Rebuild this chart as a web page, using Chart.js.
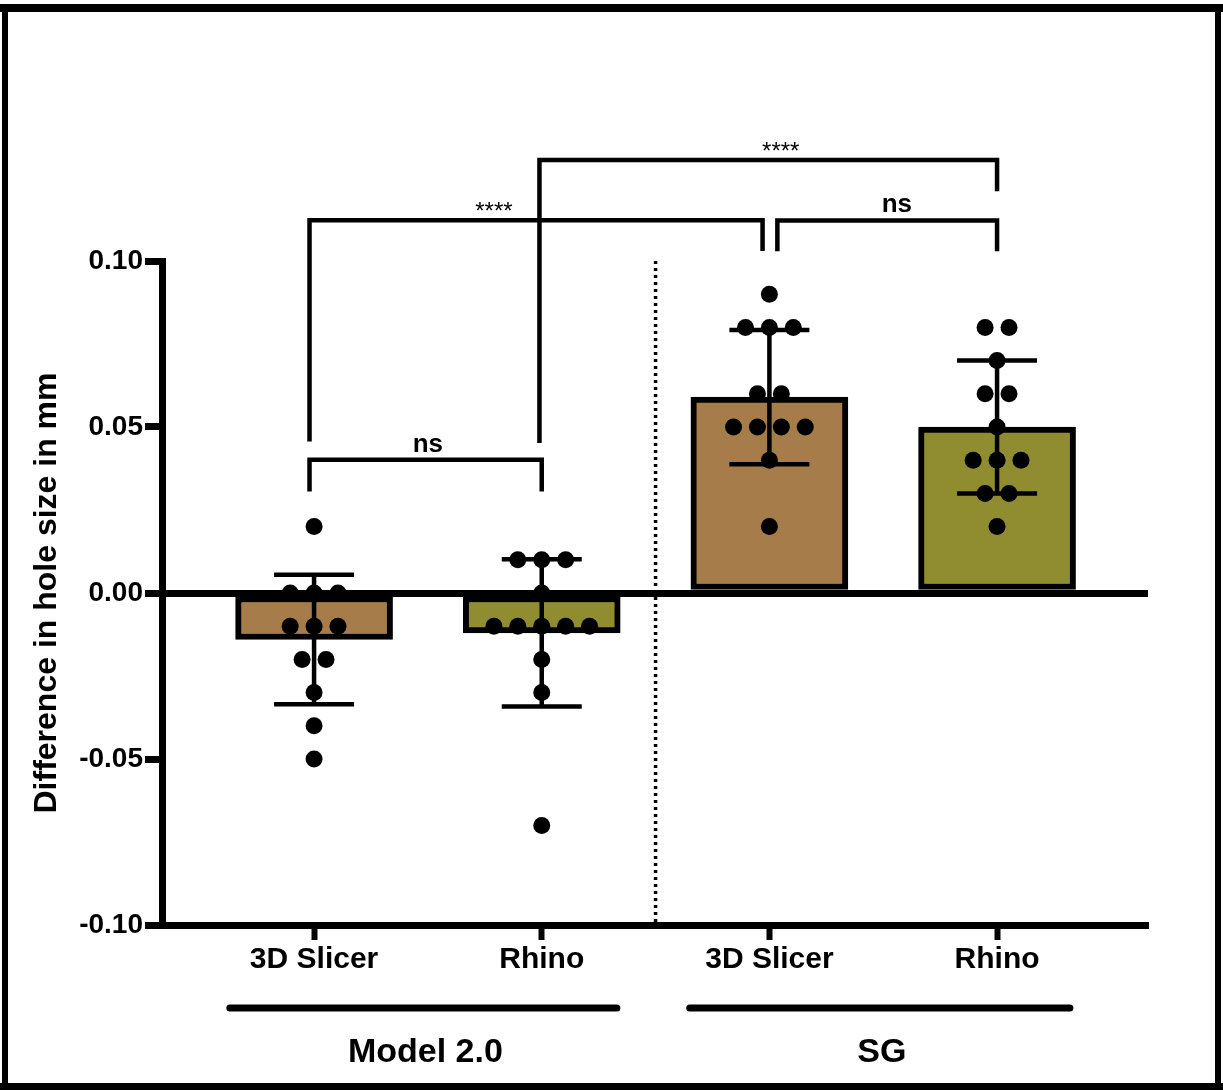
<!DOCTYPE html>
<html>
<head>
<meta charset="utf-8">
<script src="https://cdn.jsdelivr.net/npm/chart.js@4.4.1/dist/chart.umd.min.js"></script>
<style>
  html, body { margin: 0; padding: 0; background: #fff; }
  canvas { display: block; }
</style>
</head>
<body>
<canvas id="chart" width="1223" height="1090"></canvas>
<script>
// Data
const groups = ['3D Slicer', 'Rhino', '3D Slicer', 'Rhino'];
const studies = ['Model 2.0', 'SG'];
const meanValues = [-0.014, -0.012, 0.059, 0.050];
const sdValues = [0.0195, 0.0222, 0.0202, 0.020];

const slicerModel2 = [0.02, 0.00, 0.00, 0.00, -0.01, -0.01, -0.01, -0.02, -0.02, -0.03, -0.04, -0.05];
const rhinoModel2 = [0.01, 0.01, 0.01, 0.00, -0.01, -0.01, -0.01, -0.01, -0.01, -0.02, -0.03, -0.07];
const slicerSG = [0.09, 0.08, 0.08, 0.08, 0.06, 0.06, 0.05, 0.05, 0.05, 0.05, 0.04, 0.02];
const rhinoSG = [0.08, 0.08, 0.07, 0.06, 0.06, 0.05, 0.04, 0.04, 0.04, 0.03, 0.03, 0.02];

const barColors = ['#A67C4B', '#8F8D2F', '#A67C4B', '#8F8D2F'];
const FONT = '"Liberation Sans", Arial, sans-serif';

// significance brackets (x in category units, y in data units)
const brackets = [
  { x1: -0.02, x2: 1.0, y: 0.0401, e1: 0.0306, e2: 0.0306, label: 'ns', lx: 0.5, ly: 0.0426, bold: true },
  { x1: -0.02, x2: 1.97, y: 0.1123, e1: 0.0456, e2: 0.1030, label: '****', lx: 0.79, ly: 0.1127, bold: false },
  { x1: 0.99, x2: 3.0, y: 0.1304, e1: 0.0452, e2: 0.1210, label: '****', lx: 2.05, ly: 0.1307, bold: false },
  { x1: 2.035, x2: 3.0, y: 0.1122, e1: 0.1029, e2: 0.1029, label: 'ns', lx: 2.56, ly: 0.1149, bold: true }
];

// spread equal values side by side like a dot plot
const DOT_STEP = 0.105;
function swarm(values, center) {
  const counts = {};
  values.forEach(v => { counts[v] = (counts[v] || 0) + 1; });
  const seen = {};
  return values.map(v => {
    const k = seen[v] || 0;
    seen[v] = k + 1;
    return { x: center + (k - (counts[v] - 1) / 2) * DOT_STEP, y: v };
  });
}

const points = [slicerModel2, rhinoModel2, slicerSG, rhinoSG]
  .map((vals, i) => swarm(vals, i)).flat();

const extras = {
  id: 'extras',
  beforeDatasetsDraw(chart) {
    const { ctx, chartArea, scales: { x } } = chart;
    const px = x.getPixelForValue(1.5);
    ctx.save();
    ctx.strokeStyle = '#000';
    ctx.lineWidth = 3.5;
    ctx.setLineDash([3, 4]);
    ctx.beginPath();
    ctx.moveTo(px, chartArea.top);
    ctx.lineTo(px, chartArea.bottom);
    ctx.stroke();
    ctx.restore();
  },
  afterDatasetDraw(chart, args) {
    if (args.index !== 0) return;
    const { ctx, scales: { x, y } } = chart;
    ctx.save();
    ctx.strokeStyle = '#000';
    ctx.lineWidth = 4.5;
    meanValues.forEach((m, i) => {
      const px = x.getPixelForValue(i);
      const top = y.getPixelForValue(m + sdValues[i]);
      const bot = y.getPixelForValue(m - sdValues[i]);
      ctx.beginPath();
      ctx.moveTo(px, top);
      ctx.lineTo(px, bot);
      ctx.moveTo(px - 40, top);
      ctx.lineTo(px + 40, top);
      ctx.moveTo(px - 40, bot);
      ctx.lineTo(px + 40, bot);
      ctx.stroke();
    });
    ctx.restore();
  },
  afterDraw(chart) {
    const { ctx, chartArea, scales: { x, y } } = chart;
    ctx.save();
    ctx.strokeStyle = '#000';
    ctx.fillStyle = '#000';

    // brackets
    ctx.lineWidth = 4.5;
    ctx.lineJoin = 'miter';
    brackets.forEach(b => {
      ctx.beginPath();
      ctx.moveTo(x.getPixelForValue(b.x1), y.getPixelForValue(b.e1));
      ctx.lineTo(x.getPixelForValue(b.x1), y.getPixelForValue(b.y));
      ctx.lineTo(x.getPixelForValue(b.x2), y.getPixelForValue(b.y));
      ctx.lineTo(x.getPixelForValue(b.x2), y.getPixelForValue(b.e2));
      ctx.stroke();
      ctx.font = b.bold ? 'bold 26px ' + FONT : '24px ' + FONT;
      ctx.textAlign = 'center';
      ctx.textBaseline = 'alphabetic';
      ctx.fillText(b.label, x.getPixelForValue(b.lx), y.getPixelForValue(b.ly));
    });

    // study group lines and labels
    const spans = [[-0.37, 1.33], [1.65, 3.32]];
    ctx.lineWidth = 7;
    ctx.lineCap = 'round';
    spans.forEach((s, i) => {
      const a = x.getPixelForValue(s[0]);
      const b = x.getPixelForValue(s[1]);
      const ly = chartArea.bottom + 83;
      ctx.beginPath();
      ctx.moveTo(a, ly);
      ctx.lineTo(b, ly);
      ctx.stroke();
      ctx.font = 'bold 34px ' + FONT;
      ctx.textAlign = 'center';
      ctx.textBaseline = 'middle';
      ctx.fillText(studies[i], (a + b) / 2 + 2, chartArea.bottom + 128);
    });

    // outer frame
    const W = chart.width, H = chart.height;
    ctx.fillRect(0, 4, W, 8);
    ctx.fillRect(2, 4, 6, H - 4);
    ctx.fillRect(W - 8, 4, 6, H - 4);
    ctx.fillRect(0, H - 7, W, 7);
    ctx.restore();
  }
};

new Chart(document.getElementById('chart'), {
  type: 'bar',
  data: {
    datasets: [
      {
        type: 'bar',
        data: meanValues.map((m, i) => ({ x: i, y: m })),
        backgroundColor: barColors,
        borderColor: '#000',
        borderWidth: 6,
        borderSkipped: false,
        barThickness: 157,
        order: 2
      },
      {
        type: 'scatter',
        data: points,
        pointRadius: 8.5,
        pointBackgroundColor: '#000',
        pointBorderWidth: 0,
        order: 1
      }
    ]
  },
  options: {
    responsive: false,
    animation: false,
    layout: { padding: { left: 0, top: 261, right: 75, bottom: 0 } },
    plugins: { legend: { display: false }, tooltip: { enabled: false } },
    scales: {
      x: {
        type: 'linear',
        offset: false,
        min: -0.668,
        max: 3.663,
        afterFit: s => { s.height = 165; },
        afterBuildTicks: s => { s.ticks = [0, 1, 2, 3].map(v => ({ value: v })); },
        grid: { display: true, offset: false, drawOnChartArea: false, color: '#000', tickLength: 15, tickWidth: 6 },
        border: { display: true, color: '#000', width: 7 },
        ticks: {
          callback: v => groups[v],
          color: '#000',
          padding: 2,
          font: { family: FONT, size: 30, weight: 'bold' },
          maxRotation: 0
        }
      },
      y: {
        min: -0.1,
        max: 0.1,
        afterFit: s => { s.width = 162; },
        grid: {
          display: true,
          drawOnChartArea: true,
          color: c => (c.tick && Math.abs(c.tick.value) < 1e-9) ? '#000' : 'rgba(0,0,0,0)',
          lineWidth: 7,
          tickColor: '#000',
          tickLength: 17,
          tickWidth: 7
        },
        border: { display: true, color: '#000', width: 7 },
        ticks: {
          stepSize: 0.05,
          color: '#000',
          padding: 2,
          font: { family: FONT, size: 28, weight: 'bold' },
          callback: v => Number(v).toFixed(2)
        },
        title: {
          display: true,
          text: 'Difference in hole size in mm',
          color: '#000',
          font: { family: FONT, size: 32, weight: 'bold' },
          padding: { top: 28, bottom: 0 }
        }
      }
    }
  },
  plugins: [extras]
});
</script>
</body>
</html>
